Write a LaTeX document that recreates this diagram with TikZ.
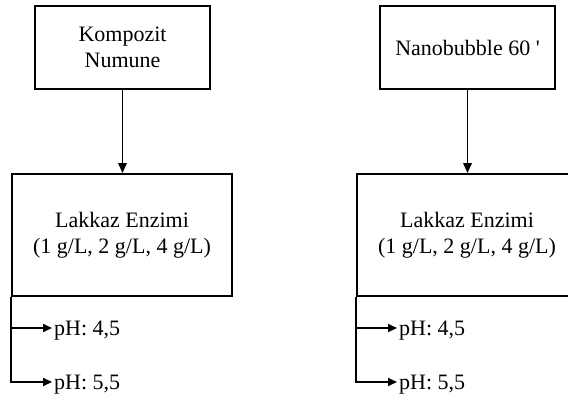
\documentclass[tikz,border=0pt]{standalone}
\usepackage{fontspec}
\setmainfont{Liberation Serif}
\usetikzlibrary{arrows.meta}
\begin{document}
\begin{tikzpicture}[x=1pt,y=-1pt,
  every node/.style={font=\fontsize{22}{25.5}\selectfont},
  box/.style={draw, line width=1.9pt, align=center, inner sep=0pt},
  conn/.style={line width=1.9pt},
  arr/.style={conn, -{Triangle[length=10pt,width=8.5pt]}},
  sarr/.style={conn, -{Triangle[length=9pt,width=8pt]}},
  phlabel/.style={anchor=west, inner sep=2pt, text height=14.5pt, text depth=0pt}]
  \useasboundingbox (0,0) rectangle (568,399);
  \clip (0,0) rectangle (568,399);

  % left column
  \node[box, minimum width=175pt, minimum height=83pt] (k) at (122.5,47.5) {Kompozit\\Numune};
  \node[box, minimum width=220pt, minimum height=122pt] (la) at (122,235) {Lakkaz Enzimi\\(1 g/L, 2 g/L, 4 g/L)};
  \node[phlabel] (la1) at (52,328) {pH: 4,5};
  \node[phlabel] (la2) at (52,382) {pH: 5,5};
  \draw[arr] (k.south) -- (k.south |- la.north);
  \draw[sarr] (la.south west |- la1.west) -- (la1.west);
  \draw[sarr] (la.south west) |- (la2.west);

  % right column
  \node[box, minimum width=175pt, minimum height=83pt] (n) at (467.5,47.5) {Nanobubble 60 \textquotesingle};
  \node[box, minimum width=220pt, minimum height=122pt] (lb) at (467,235) {Lakkaz Enzimi\\(1 g/L, 2 g/L, 4 g/L)};
  \node[phlabel] (lb1) at (397,328) {pH: 4,5};
  \node[phlabel] (lb2) at (397,382) {pH: 5,5};
  \draw[arr] (n.south) -- (n.south |- lb.north);
  \draw[sarr] (lb.south west |- lb1.west) -- (lb1.west);
  \draw[sarr] (lb.south west) |- (lb2.west);
\end{tikzpicture}
\end{document}
